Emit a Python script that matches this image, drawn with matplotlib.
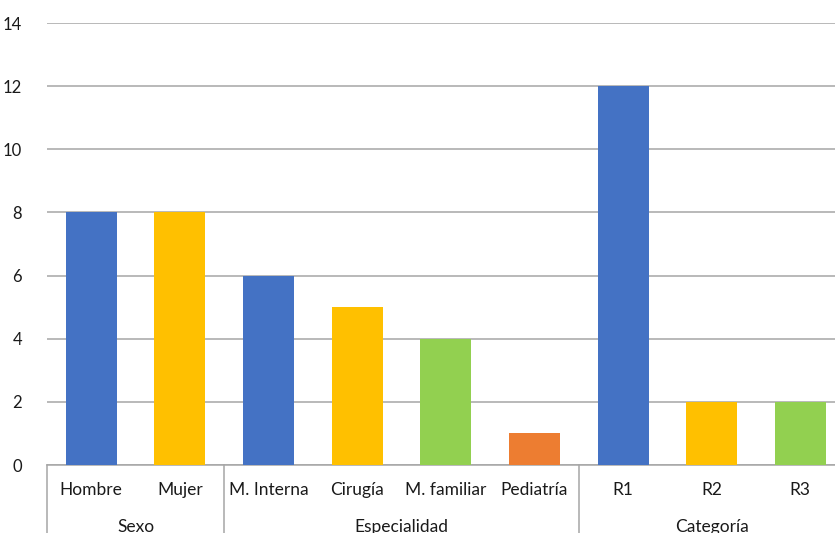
import matplotlib.pyplot as plt
from matplotlib.transforms import blended_transform_factory

plt.rcParams['font.family'] = ['Lato', 'DejaVu Sans']

categories = ['Hombre', 'Mujer', 'M. Interna', 'Cirugía', 'M. familiar', 'Pediatría', 'R1', 'R2', 'R3']
values = [8, 8, 6, 5, 4, 1, 12, 2, 2]
bar_colors = ['#4472C4', '#FFC000', '#4472C4', '#FFC000', '#92D050', '#ED7D31', '#4472C4', '#FFC000', '#92D050']
groups = ['Sexo', 'Especialidad', 'Categoría']
group_sizes = [2, 4, 3]

fig = plt.figure(figsize=(8.35, 5.33), dpi=100)
# plot area runs slightly past the right edge of the image, like the reference
ax = fig.add_axes([47 / 835, 1 - 465 / 533, 797.6 / 835, 442 / 533])

x = list(range(len(categories)))
ax.bar(x, values, width=0.575, color=bar_colors, zorder=3)

ax.set_xlim(-0.5, len(categories) - 0.5)
ax.set_ylim(0, 14)
ax.set_yticks(range(0, 15, 2))
ax.yaxis.grid(True, color='#A6A6A6', linewidth=1.1, zorder=0)
ax.set_axisbelow(True)
for s in ['top', 'right', 'left']:
    ax.spines[s].set_visible(False)
ax.spines['bottom'].set_color('#A6A6A6')
ax.spines['bottom'].set_linewidth(1.1)
ax.tick_params(axis='y', length=0, pad=18, labelsize=12, labelcolor='#1a1a1a')
ax.tick_params(axis='x', length=0)
ax.set_xticks([])

trans = blended_transform_factory(ax.transData, ax.transAxes)
for i, name in enumerate(categories):
    ax.text(i, -0.057, name, transform=trans, ha='center', va='center', fontsize=12.5, color='#1a1a1a')

start = 0
edges = [-0.5]
for name, n in zip(groups, group_sizes):
    mid = start + (n - 1) / 2
    ax.text(mid, -0.14, name, transform=trans, ha='center', va='center', fontsize=12.5, color='#1a1a1a', clip_on=False)
    start += n
    edges.append(start - 0.5)
for e in edges:
    ax.plot([e, e], [0, -0.2], transform=trans, color='#A6A6A6', linewidth=1.1, clip_on=False)

fig.savefig('out.png', dpi=100)
